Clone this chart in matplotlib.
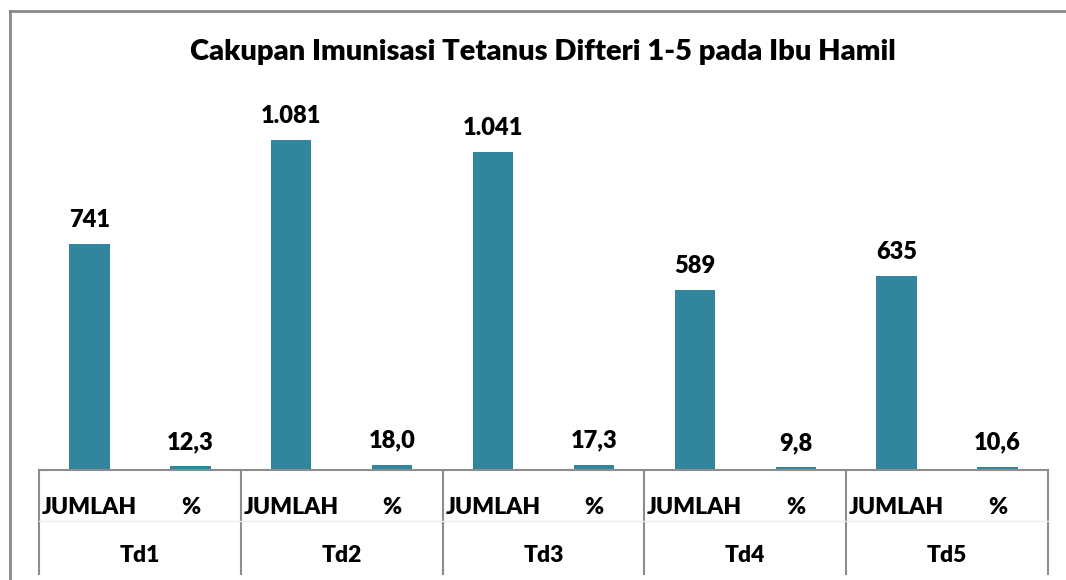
import matplotlib
matplotlib.use("Agg")
import matplotlib.pyplot as plt
from matplotlib.transforms import blended_transform_factory
from matplotlib.lines import Line2D

plt.rcParams['font.family'] = ['Lato', 'DejaVu Sans']

title = "Cakupan Imunisasi Tetanus Difteri 1-5 pada Ibu Hamil"
groups = ["Td1", "Td2", "Td3", "Td4", "Td5"]
sub_labels = ["JUMLAH", "%"]
jumlah = [741, 1081, 1041, 589, 635]
persen = [12.3, 18.0, 17.3, 9.8, 10.6]

bar_color = "#31859C"

W, H = 1066, 580
fig = plt.figure(figsize=(W / 100, H / 100), dpi=100)
# plot area in pixels
left_px, right_px, base_px, top_px = 39, 1048, 470, 90
ax = fig.add_axes([left_px / W, 1 - base_px / H, (right_px - left_px) / W, (base_px - top_px) / H])

values = []
labels = []
for j, p in zip(jumlah, persen):
    values += [j, p]
    labels += [f"{j:,}".replace(",", "."), f"{p:.1f}".replace(".", ",")]
xs = list(range(len(values)))

ax.bar(xs, values, width=0.4, color=bar_color)
for x, v, lab in zip(xs, values, labels):
    ax.annotate(lab, (x, v), xytext=(0, 13), textcoords="offset pixels",
                ha="center", va="bottom", fontsize=17, fontweight="heavy", color="black")

ax.set_xlim(-0.5, len(values) - 0.5)
ax.set_ylim(0, 1245)
ax.set_xticks([])
ax.set_yticks([])
for s in ["top", "right", "left"]:
    ax.spines[s].set_visible(False)
ax.spines["bottom"].set_color("#8c8c8c")
ax.spines["bottom"].set_linewidth(1.5)

trans = blended_transform_factory(ax.transData, ax.transAxes)
plot_h = base_px - top_px
row1_y = -(507 - base_px) / plot_h
row2_y = -(556 - base_px) / plot_h
sep_y = -(521 - base_px) / plot_h
bottom_y = -(574 - base_px) / plot_h

for i, g in enumerate(groups):
    for k, s in enumerate(sub_labels):
        ax.text(2 * i + k, row1_y, s, transform=trans, ha="center", va="center",
                fontsize=16.5, fontweight="heavy", clip_on=False)
    ax.text(2 * i + 0.5, row2_y, g, transform=trans, ha="center", va="center",
            fontsize=16.5, fontweight="heavy", clip_on=False)

for b in range(len(groups) + 1):
    xb = 2 * b - 0.5
    ax.add_line(Line2D([xb, xb], [0, bottom_y], transform=trans, color="#8c8c8c",
                       lw=1.5, clip_on=False))
ax.add_line(Line2D([-0.5, len(values) - 0.5], [sep_y, sep_y], transform=trans,
                   color="#ececec", lw=1, clip_on=False))

fig.text(543 / W, 1 - 52 / H, title, ha="center", va="center", fontsize=21, fontweight="heavy")

# outer chart border (left and top visible)
fig.add_artist(Line2D([10 / W, 10 / W], [0, 1 - 11 / H], transform=fig.transFigure,
                      color="#888888", lw=2))
fig.add_artist(Line2D([10 / W, 1], [1 - 11 / H, 1 - 11 / H], transform=fig.transFigure,
                      color="#888888", lw=2))

fig.savefig("out.png", dpi=100)
